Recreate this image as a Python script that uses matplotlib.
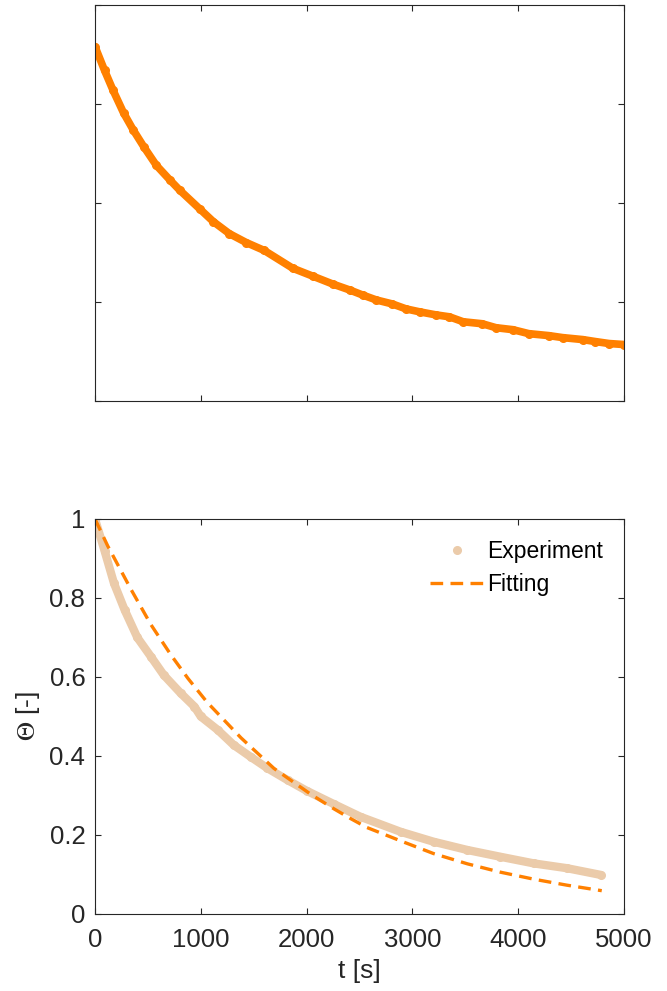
import matplotlib
matplotlib.use('Agg')
import matplotlib.pyplot as plt

plt.rcParams['font.family'] = ['Liberation Sans', 'DejaVu Sans']
plt.rcParams['mathtext.fontset'] = 'stix'

# top panel: raw signal (no tick labels in the original)
t_raw = [0, 90, 170, 270, 360, 460, 580, 710, 800, 990, 1120, 1270, 1430, 1600,
         1870, 2060, 2250, 2410, 2530, 2660, 2810, 2940, 3070, 3220, 3350, 3480,
         3660, 3790, 3950, 4100, 4290, 4420, 4610, 4730, 4860, 5000]
v_raw = [3.58, 3.34, 3.14, 2.91, 2.74, 2.57, 2.38, 2.23, 2.13, 1.94, 1.81, 1.69,
         1.60, 1.52, 1.34, 1.26, 1.18, 1.12, 1.07, 1.02, 0.98, 0.93, 0.90, 0.87,
         0.85, 0.80, 0.78, 0.74, 0.72, 0.68, 0.66, 0.64, 0.62, 0.60, 0.58, 0.57]

# bottom panel: normalised experiment and fit
t_exp = [0, 90, 180, 280, 400, 530, 650, 810, 940, 1000, 1160, 1310, 1470, 1630,
         1820, 2000, 2260, 2510, 2890, 3200, 3520, 3830, 4150, 4460, 4780]
theta_exp = [1.0, 0.92, 0.837, 0.77, 0.70, 0.651, 0.605, 0.559, 0.525, 0.50, 0.466,
             0.428, 0.398, 0.369, 0.339, 0.312, 0.278, 0.246, 0.208,
             0.183, 0.162, 0.145, 0.128, 0.116, 0.099]

t_fit = [0, 120, 340, 530, 720, 880, 1060, 1380, 1690, 2040, 2260, 2420, 2570,
         2890, 3200, 3520, 3830, 4150, 4460, 4790]
theta_fit = [1.0, 0.932, 0.822, 0.732, 0.655, 0.596, 0.536, 0.446, 0.369, 0.303,
             0.266, 0.241, 0.219, 0.185, 0.153, 0.127, 0.106, 0.088, 0.073, 0.059]

axcol = '#262626'
orange = '#FF8000'
tan = '#EBCBAA'

fig = plt.figure(figsize=(6.67, 9.91), dpi=100)
ax1 = fig.add_axes([0.1424, 0.5954, 0.7931, 0.3996])
ax2 = fig.add_axes([0.1424, 0.0777, 0.7931, 0.3986])

for ax in (ax1, ax2):
    for s in ax.spines.values():
        s.set_color(axcol)
        s.set_linewidth(0.8)
    ax.tick_params(direction='in', top=True, right=True, length=4, width=0.8,
                   color=axcol, labelcolor=axcol, labelsize=18.5)
    ax.tick_params(axis='x', pad=10)
    ax.tick_params(axis='y', pad=7)
    ax.set_xlim(0, 5000)
    ax.set_xticks([0, 1000, 2000, 3000, 4000, 5000])

ax1.plot(t_raw, v_raw, '-o', color=orange, lw=5.5, ms=5.5, solid_capstyle='round',
         solid_joinstyle='round')
ax1.set_ylim(0, 4)
ax1.set_yticks([0, 1, 2, 3, 4])
ax1.set_xticklabels([])
ax1.set_yticklabels([])

ax2.plot(t_exp, theta_exp, '-', color=tan, lw=6, solid_capstyle='round',
         solid_joinstyle='round')
ax2.plot(t_exp, theta_exp, 'o', color=tan, ms=5.5, label='Experiment')
ax2.plot(t_fit, theta_fit, '--', color=orange, lw=2.4, dashes=(3.8, 2.2), label='Fitting')
ax2.set_ylim(0, 1)
ax2.set_yticks([0, 0.2, 0.4, 0.6, 0.8, 1])
ax2.set_yticklabels(['0', '0.2', '0.4', '0.6', '0.8', '1'])
ax2.set_xlabel('t [s]', fontsize=19, color=axcol, labelpad=5)
ax2.set_ylabel(r'$\Theta$ [-]', fontsize=19, color=axcol, labelpad=5)

leg = ax2.legend(loc='upper right', frameon=False, fontsize=16.5, handlelength=2.3,
                 handletextpad=0.2, borderaxespad=0.5, labelspacing=0.45)
for txt in leg.get_texts():
    txt.set_color('black')

fig.savefig('out.png', dpi=100)
